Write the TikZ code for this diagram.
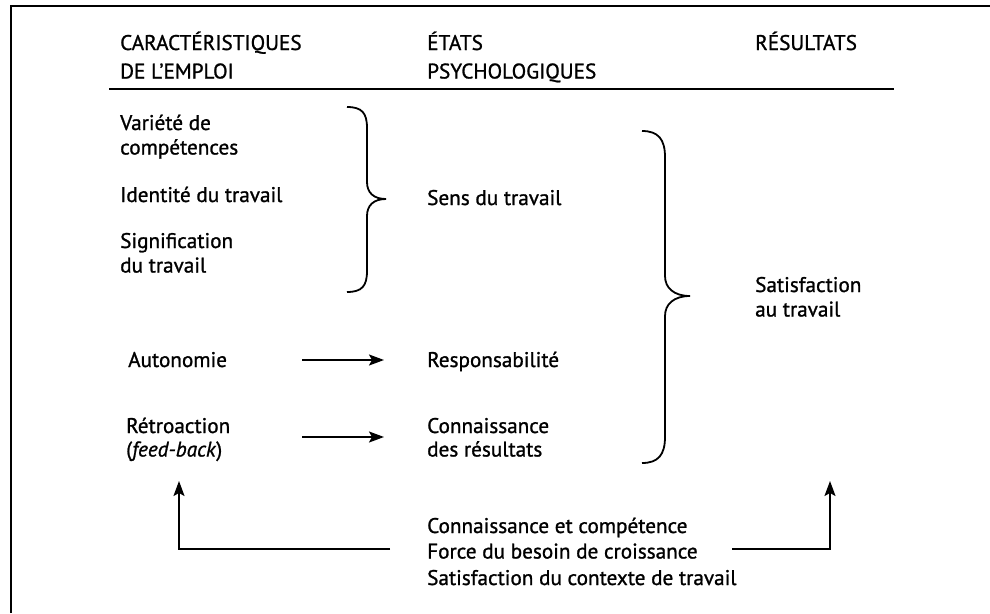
\documentclass[tikz,border=0pt]{standalone}
\usepackage{fontspec}
\setmainfont{PT Sans}[FakeBold=1.1]
\usetikzlibrary{arrows.meta}
\begin{document}
\begin{tikzpicture}[x=1pt,y=-1pt,
  txt/.style={anchor=base west,inner sep=0pt,font=\fontsize{21.2}{24.5}\selectfont},
  arr/.style={line width=1.9pt,-{Stealth[length=15pt,width=11pt,inset=3pt]}},
  brace/.style={line width=1.8pt}]
\useasboundingbox (0,0) rectangle (990,613);
% frame
\draw[line width=1.5pt] (11,613) -- (11,6) -- (990,6);
% header
\node[txt] (car) at (120,50) {\begin{tabular}[t]{@{}l@{}}CARACTÉRISTIQUES\\[4pt]DE L’EMPLOI\end{tabular}};
\node[txt] (eta) at (427,50) {\begin{tabular}[t]{@{}l@{}}ÉTATS\\[4pt]PSYCHOLOGIQUES\end{tabular}};
\node[txt] (res) at (755,50) {RÉSULTATS};
\coordinate (hl) at (109,89);
\coordinate (hr) at (894,89);
\draw[line width=2.2pt] (hl) -- (hr);
% left column
\node[txt] (var) at (120,130) {\begin{tabular}[t]{@{}l@{}}Variété de\\compétences\end{tabular}};
\node[txt] (ide) at (120,202) {Identité du travail};
\node[txt] (sig) at (120,248) {\begin{tabular}[t]{@{}l@{}}Signification\\du travail\end{tabular}};
\node[txt] (aut) at (128,367) {Autonomie};
\node[txt] (ret) at (126,433) {\begin{tabular}[t]{@{}l@{}}Rétroaction\\[-1pt](\textit{feed-back})\end{tabular}};
% middle column
\node[txt] (sen) at (427,205) {Sens du travail};
\node[txt] (rsp) at (427,367) {Responsabilité};
\node[txt] (con) at (427,433) {\begin{tabular}[t]{@{}l@{}}Connaissance\\[-1pt]des résultats\end{tabular}};
\node[txt] (mod) at (427,533) {\begin{tabular}[t]{@{}l@{}}Connaissance et compétence\\[1pt]Force du besoin de croissance\\[2pt]Satisfaction du contexte de travail\end{tabular}};
% right column
\node[txt] (sat) at (755,292) {\begin{tabular}[t]{@{}l@{}}Satisfaction\\au travail\end{tabular}};
% brace 1
\draw[brace] (347,107) .. controls (362,107) and (367,113) .. (367,128) -- (367,182)
  .. controls (367,193) and (374,199) .. (386,199)
  .. controls (374,199) and (367,205) .. (367,216) -- (367,271)
  .. controls (367,286) and (362,292) .. (347,292);
% brace 2
\draw[brace] (642,131) .. controls (658,131) and (665,139) .. (665,157) -- (665,276)
  .. controls (665,288) and (674,296) .. (690,296)
  .. controls (674,296) and (665,304) .. (665,316) -- (665,437)
  .. controls (665,455) and (658,463) .. (642,463);
% arrows
\coordinate (a1s) at (302,360);
\coordinate (a1e) at (384,360);
\draw[arr] (a1s) -- (a1e);
\coordinate (a2s) at (302,437);
\coordinate (a2e) at (384,437);
\draw[arr] (a2s) -- (a2e);
% feedback arrows
\coordinate (fl) at (390,549);
\coordinate (fc) at (179,549);
\coordinate (ft) at (179,481);
\draw[arr] (fl) -- (fc) -- (ft);
\coordinate (fr) at (732,549);
\coordinate (fc2) at (830,549);
\coordinate (ft2) at (830,481);
\draw[arr] (fr) -- (fc2) -- (ft2);
\end{tikzpicture}
\end{document}
